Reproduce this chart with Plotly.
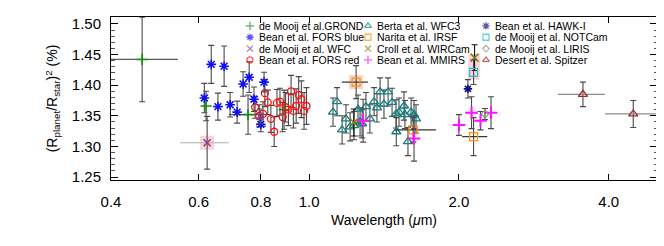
import math
import plotly.graph_objects as go

FONT = "Liberation Sans, Arial, sans-serif"

# ---------------- data (wavelength in micron, (Rp/Rs)^2 in %) ----------------
grond_wl = [0.462, 0.621, 0.754, 0.891]
grond_r2 = [1.442, 1.366, 1.352, 1.360]
grond_err = [0.069, 0.024, 0.032, 0.032]
grond_xm = [0.062, 0.0, 0.064, 0.0]
grond_xp = [0.083, 0.0, 0.066, 0.0]

fors_blue_wl = [0.616, 0.636, 0.656, 0.675, 0.694, 0.717, 0.737, 0.758, 0.775, 0.800, 0.812]
fors_blue_r2 = [1.379, 1.434, 1.365, 1.431, 1.368, 1.356, 1.402, 1.413, 1.377, 1.336, 1.405]
fors_blue_err = [0.024, 0.031, 0.022, 0.033, 0.020, 0.018, 0.020, 0.025, 0.020, 0.012, 0.016]

wfc_wl = [0.624, 0.797]
wfc_r2 = [1.306, 1.349]
wfc_err = [0.043, 0.012]
wfc_xm = [0.073, 0.0]
wfc_xp = [0.066, 0.0]

fors_red_wl = [0.779, 0.794, 0.808, 0.815, 0.826, 0.838, 0.851, 0.862, 0.874, 0.885,
               0.897, 0.909, 0.920, 0.930, 0.942, 0.953, 0.965, 0.977, 0.988]
fors_red_r2 = [1.364, 1.350, 1.353, 1.387, 1.372, 1.345, 1.324, 1.371, 1.373, 1.348,
               1.364, 1.360, 1.390, 1.358, 1.366, 1.384, 1.377, 1.358, 1.366]
fors_red_err = [0.018, 0.018, 0.020, 0.022, 0.020, 0.022, 0.024, 0.022, 0.022, 0.024,
                0.024, 0.026, 0.026, 0.028, 0.028, 0.030, 0.030, 0.030, 0.030]

berta_wl = [1.117, 1.138, 1.165, 1.186, 1.209, 1.231, 1.254, 1.266, 1.278, 1.301,
            1.325, 1.351, 1.369, 1.389, 1.414, 1.441, 1.468, 1.495, 1.497, 1.516,
            1.551, 1.558, 1.580, 1.603, 1.625, 1.640]
berta_r2 = [1.356, 1.373, 1.327, 1.345, 1.332, 1.334, 1.361, 1.340, 1.337, 1.365,
            1.345, 1.373, 1.363, 1.389, 1.369, 1.389, 1.372, 1.353, 1.324, 1.356,
            1.366, 1.352, 1.308, 1.356, 1.352, 1.345]
berta_err = [0.023] * 26

narita_wl = [1.243, 1.618, 2.140]
narita_r2 = [1.405, 1.327, 1.316]
narita_err = [0.027, 0.020, 0.031]
narita_xm = [0.080, 0.130, 0.110]
narita_xp = [0.070, 0.180, 0.140]

croll_wl = [1.230, 2.150]
croll_r2 = [1.339, 1.445]
croll_err = [0.022, 0.021]

mmirs_wl = [1.284, 1.625, 2.000, 2.120, 2.210, 2.320]
mmirs_r2 = [1.342, 1.313, 1.335, 1.355, 1.342, 1.355]
mmirs_err = [0.035, 0.037, 0.017, 0.026, 0.015, 0.026]

hawki_wl = [2.085]
hawki_r2 = [1.394]
hawki_err = [0.015]

notcam_wl = [2.140]
notcam_r2 = [1.421]
notcam_err = [0.020]

liris_wl = [2.256]
liris_r2 = [1.353]
liris_err = [0.009]

spitzer_wl = [3.55, 4.48]
spitzer_r2 = [1.385, 1.353]
spitzer_err = [0.020, 0.022]
spitzer_xm = [0.39, 0.55]
spitzer_xp = [0.38, 0.52]

x_ticks = [0.4, 0.6, 0.8, 1.0, 2.0, 4.0]
y_ticks = [1.25, 1.30, 1.35, 1.40, 1.45, 1.50]

# ---------------- figure ----------------
fig = go.Figure()

EB = "#4a4a4a"


def add_series(wl, r2, err, symbol, color, size=7, lw=1.2, ecolor=EB,
               xm=None, xp=None, xcolor="#8c8c8c"):
    kw = {}
    if xm is not None:
        kw["error_x"] = dict(type="data", symmetric=False, array=xp, arrayminus=xm,
                             color=xcolor, thickness=1.2, width=0)
    fig.add_trace(go.Scatter(
        x=wl, y=r2, mode="markers", showlegend=False,
        marker=dict(symbol=symbol, size=size, color=color,
                    line=dict(color=color, width=lw)),
        error_y=dict(type="data", array=err, color=ecolor, thickness=1.1, width=3),
        **kw))


# pink highlights (behind the points)
hl = "rgba(244,160,170,0.45)"
fig.add_trace(go.Scatter(x=[wfc_wl[0]], y=[wfc_r2[0]], mode="markers", showlegend=False,
                         marker=dict(symbol="square", size=14, color=hl)))
fig.add_trace(go.Scatter(x=[narita_wl[0]], y=[narita_r2[0]], mode="markers", showlegend=False,
                         marker=dict(symbol="square", size=14, color="rgba(248,170,150,0.5)")))
fig.add_trace(go.Scatter(x=[croll_wl[1], notcam_wl[0]], y=[croll_r2[1] + 0.006, notcam_r2[0] - 0.012],
                         mode="lines", showlegend=False,
                         line=dict(color=hl, width=12)))

add_series(grond_wl, grond_r2, grond_err, "cross-thin-open", "#109010", 8, 1.6,
           xm=grond_xm, xp=grond_xp, xcolor="#5a5a5a")
add_series(fors_red_wl, fors_red_r2, fors_red_err, "circle-open", "#ff1010", 7, 1.3)
add_series(fors_blue_wl, fors_blue_r2, fors_blue_err, "asterisk-open", "#1010f0", 8, 1.6)
add_series(wfc_wl, wfc_r2, wfc_err, "x-thin-open", "#8a3d8a", 7, 1.6,
           xm=wfc_xm, xp=wfc_xp, xcolor="#b0b0b0")
add_series(berta_wl, berta_r2, berta_err, "triangle-up-open", "#108080", 8, 1.3)
add_series(narita_wl, narita_r2, narita_err, "square-open", "#ff9010", 8, 1.3,
           xm=narita_xm, xp=narita_xp, xcolor="#333333")
add_series(croll_wl, croll_r2, croll_err, "x-thin-open", "#8a7a10", 8, 1.5, ecolor="#111111")
add_series(mmirs_wl, mmirs_r2, mmirs_err, "cross-thin-open", "#ff10ff", 9, 2.0)
add_series(hawki_wl, hawki_r2, hawki_err, "asterisk-open", "#10108a", 7, 1.6)
add_series(notcam_wl, notcam_r2, notcam_err, "square-open", "#20c0c8", 8, 1.3)
add_series(liris_wl, liris_r2, liris_err, "diamond-open", "#909090", 6, 1.2)
add_series(spitzer_wl, spitzer_r2, spitzer_err, "triangle-up-open", "#a02828", 8, 1.3,
           xm=spitzer_xm, xp=spitzer_xp, xcolor="#8c8c8c")

# ---------------- custom compact legend ----------------
legend_labels = [
    ["de Mooij et al.GROND", "Bean et al. FORS blue", "de Mooij et al. WFC", "Bean et al. FORS red"],
    ["Berta et al. WFC3", "Narita et al. IRSF", "Croll et al. WIRCam", "Bean et al. MMIRS"],
    ["Bean et al. HAWK-I", "de Mooij et al. NOTCam", "de Mooij et al. LIRIS", "Desert et al. Spitzer"],
]
legend_symbols = [
    [("cross-thin-open", "#109010", 6, 1.4), ("asterisk-open", "#1010f0", 6, 1.3),
     ("x-thin-open", "#8a3d8a", 6, 1.3), ("circle-open", "#ff1010", 6, 1.2)],
    [("triangle-up-open", "#108080", 6, 1.1), ("square-open", "#ff9010", 6, 1.1),
     ("x-thin-open", "#8a7a10", 6, 1.3), ("cross-thin-open", "#ff10ff", 6, 1.6)],
    [("asterisk-open", "#10108a", 6, 1.3), ("square-open", "#20c0c8", 6, 1.1),
     ("diamond-open", "#909090", 5, 1.0), ("triangle-up-open", "#a02828", 6, 1.1)],
]
PL, PR, PT, PB = 103, 649, 7, 172
col_px = [242, 360, 478]
row_py = [16, 27.5, 39, 50.5]


def px2paper(px):
    return (px - PL) / (PR - PL)


def py2paper(py):
    return (PB - py) / (PB - PT)


for c in range(3):
    fig.add_trace(go.Scatter(
        x=[px2paper(col_px[c])] * 4, y=[py2paper(p) for p in row_py], xaxis="x2", yaxis="y2",
        mode="markers", showlegend=False, hoverinfo="skip",
        marker=dict(symbol=[s[0] for s in legend_symbols[c]],
                    size=[s[2] for s in legend_symbols[c]],
                    color=[s[1] for s in legend_symbols[c]],
                    line=dict(color=[s[1] for s in legend_symbols[c]], width=1.3))))
    for r in range(4):
        fig.add_annotation(x=px2paper(col_px[c] + 7), y=py2paper(row_py[r]),
                           xref="paper", yref="paper", xanchor="left", yanchor="middle",
                           text=legend_labels[c][r], showarrow=False,
                           font=dict(family=FONT, size=10.5, color="black"))

fig.update_layout(
    width=664, height=246, autosize=False,
    margin=dict(l=PL, r=664 - PR, t=PT, b=246 - PB),
    paper_bgcolor="white", plot_bgcolor="white",
    font=dict(family=FONT, color="black"),
    showlegend=False,
    xaxis=dict(type="log", range=[math.log10(0.4), math.log10(5.0)],
               tickvals=x_ticks, ticktext=[f"{v:.1f}" for v in x_ticks],
               ticks="inside", ticklen=6, tickcolor="black",
               showline=True, linecolor="black", linewidth=1, mirror="ticks",
               showgrid=False, zeroline=False,
               tickfont=dict(family=FONT, size=15), ticklabelstandoff=8,
               title=dict(text="Wavelength (<i>μ</i>m)", font=dict(family=FONT, size=14),
                          standoff=6)),
    yaxis=dict(range=[1.2452, 1.5113], tickvals=y_ticks,
               ticktext=[f"{v:.2f}" for v in y_ticks],
               ticks="inside", ticklen=7, tickcolor="black",
               minor=dict(ticks="inside", dtick=0.01, ticklen=3.5, tickcolor="#555555",
                          showgrid=False),
               showline=True, linecolor="black", linewidth=1, mirror="ticks",
               showgrid=False, zeroline=False,
               tickfont=dict(family=FONT, size=15), ticklabelstandoff=6,
               title=dict(text="(R<sub>planet</sub>/R<sub>star</sub>)<sup>2</sup> (%)",
                          font=dict(family=FONT, size=14), standoff=10)),
    xaxis2=dict(range=[0, 1], overlaying="x", showticklabels=False, showline=False,
                showgrid=False, zeroline=False, ticks="", fixedrange=True),
    yaxis2=dict(range=[0, 1], overlaying="y", showticklabels=False, showline=False,
                showgrid=False, zeroline=False, ticks="", fixedrange=True),
)

fig.write_html("out.html")
